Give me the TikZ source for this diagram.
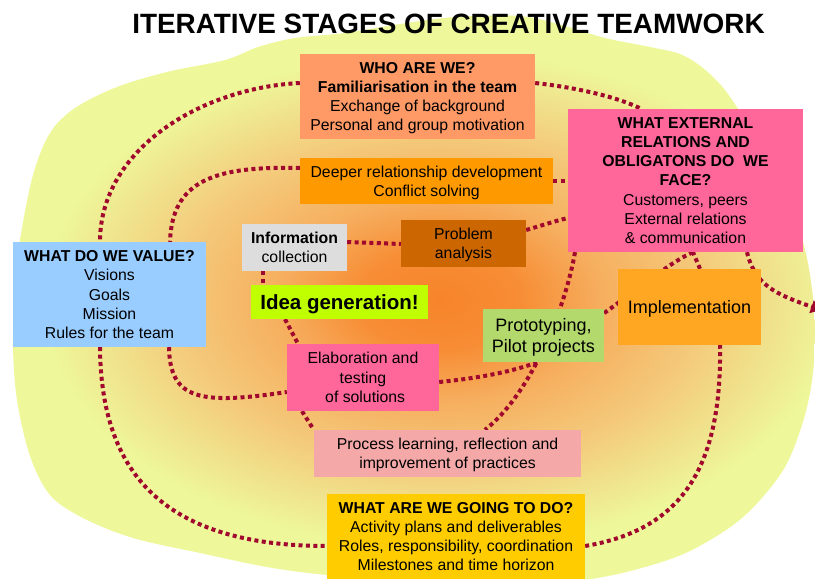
\documentclass[tikz,border=0pt]{standalone}
\usepackage{fontspec}
\setmainfont{Liberation Sans}
\usetikzlibrary{arrows.meta}

% palette
\definecolor{blobc}{HTML}{EEF89B}
\definecolor{glowA}{HTML}{F7842A}
\definecolor{glowB}{HTML}{F78D35}
\definecolor{glowC}{HTML}{F6AE5E}
\definecolor{glowD}{HTML}{F4C97A}
\definecolor{glowE}{HTML}{F0E48E}
\definecolor{linkc}{HTML}{A0082D}
\definecolor{whoc}{HTML}{FF9966}
\definecolor{deeperc}{HTML}{FF9900}
\definecolor{pinkc}{HTML}{FF6699}
\definecolor{valuec}{HTML}{99CCFF}
\definecolor{infoc}{HTML}{DDDDDD}
\definecolor{problemc}{HTML}{CC6600}
\definecolor{ideac}{HTML}{C0FF00}
\definecolor{protoc}{HTML}{B3D96C}
\definecolor{implc}{HTML}{FFA722}
\definecolor{processc}{HTML}{F4A9A8}
\definecolor{goingc}{HTML}{FFCC00}

% warm glow in the middle of the blob (ellipse edge = 25bp)
\pgfdeclareradialshading{glow}{\pgfpoint{0bp}{0bp}}{%
  color(0bp)=(glowA); color(5bp)=(glowB); color(10bp)=(glowC);
  color(16.25bp)=(glowD); color(21.25bp)=(glowE); color(25bp)=(blobc);
  color(50bp)=(blobc)}

\pgfdeclarelayer{blob}
\pgfdeclarelayer{links}
\pgfsetlayers{blob,links,main}

\newcommand\fsbody{\fontsize{15.8}{19.3}\selectfont}
\newcommand\fsbig{\fontsize{18}{21}\selectfont}

\tikzset{
  box/.style={inner sep=0pt, align=center, text=black, font=\fsbody, text depth=0pt},
  link/.style={draw=linkc, line width=4pt, dash pattern=on 4pt off 3.4pt},
}

\begin{document}
\begin{tikzpicture}[x=1pt, y=-1pt]
\useasboundingbox (0,0) rectangle (815,579);

% title
\node[font=\fontsize{27.9}{33}\selectfont\bfseries, anchor=base] (title) at (448.5,33.5)
  {ITERATIVE STAGES OF CREATIVE TEAMWORK};

% stage boxes
\node[box, fill=whoc, minimum width=235pt, minimum height=85pt] (who) at (417.5,96.5)
  {\textbf{WHO ARE WE?}\\\textbf{Familiarisation in the team}\\Exchange of background\\Personal and group motivation};
\node[box, fill=deeperc, minimum width=253pt, minimum height=46pt] (deeper) at (426.5,181)
  {Deeper relationship development\\Conflict solving};
\node[box, fill=pinkc, minimum width=235pt, minimum height=143pt] (ext) at (685.5,180.5)
  {\textbf{WHAT EXTERNAL}\\\textbf{RELATIONS AND}\\\textbf{OBLIGATONS DO\ \ WE}\\\textbf{FACE?}\\Customers, peers\\External relations\\\& communication};
\node[box, fill=valuec, minimum width=193pt, minimum height=105pt] (value) at (109.5,294.5)
  {\textbf{WHAT DO WE VALUE?}\\Visions\\Goals\\Mission\\Rules for the team};
\node[box, fill=infoc, minimum width=105pt, minimum height=47pt] (info) at (294.5,247.5)
  {\textbf{Information}\\collection};
\node[box, fill=problemc, minimum width=125pt, minimum height=47pt] (problem) at (463.5,243.5)
  {Problem\\analysis};
\node[box, fill=ideac, minimum width=177pt, minimum height=34pt,
      font=\fontsize{20.5}{24}\selectfont\bfseries] (idea) at (339.5,302)
  {Idea generation!};
\node[box, fill=protoc, minimum width=121pt, minimum height=53pt, font=\fsbig] (proto) at (543.5,335.5)
  {Prototyping,\\Pilot projects};
\node[box, fill=implc, minimum width=143pt, minimum height=76pt, font=\fsbig] (impl) at (689.5,307)
  {Implementation};
\node[box, fill=pinkc, minimum width=152pt, minimum height=67pt] (elab) at (363,377.5)
  {Elaboration and\\testing\\\ of solutions};
\node[box, fill=processc, minimum width=267pt, minimum height=47pt] (process) at (447.5,453.5)
  {Process learning, reflection and\\improvement of practices};
\node[box, fill=goingc, minimum width=258pt, minimum height=85pt] (going) at (456,536.5)
  {\textbf{WHAT ARE WE GOING TO DO?}\\Activity plans and deliverables\\Roles, responsibility, coordination\\Milestones and time horizon};

\coordinate (exit) at (821,310);

% background blob with its glow
\begin{pgfonlayer}{blob}
\begin{scope}
  \clip plot[smooth cycle, tension=0.55] coordinates {
    (20,240) (33,175) (50,133) (75,108) (117,87) (167,72) (225,60) (258,47)
    (295,38) (345,33) (400,24) (455,17) (520,16) (565,26) (605,38) (650,47)
    (680,54) (703,68) (725,90) (748,125) (772,168) (792,210) (805,250)
    (812,290) (815,330) (812,380) (802,425) (782,472) (742,518) (690,551)
    (638,569) (585,580) (520,586) (420,582) (327,575) (267,567) (200,553)
    (133,538) (83,518) (50,495) (30,456) (17,400) (13,346) (15,290)};
  \fill[blobc] (0,0) rectangle (815,600);
  \shade[shading=glow] (440,300) ellipse (400pt and 250pt);
\end{scope}
\end{pgfonlayer}

% dotted paths between the stages
\begin{pgfonlayer}{links}
% outer loop
\draw[link] ([yshift=13.5pt]who.west) .. controls (200,88) and (100,150) .. ([xshift=-9.5pt]value.north);
\draw[link] ([xshift=-9.5pt]value.south) .. controls (101,465) and (155,546) .. ([yshift=-9.5pt]going.west);
\draw[link] ([yshift=-9.5pt]going.east) .. controls (680,530) and (722,470) .. ([xshift=30.5pt]impl.south);
\draw[link] ([xshift=10.5pt]impl.north) -- ([xshift=7.5pt]ext.south);
\draw[link] ([yshift=13.5pt]who.east) .. controls (580,88) and (620,98) .. ([xshift=-44.5pt]ext.north);
\draw[link, -{Triangle[length=10pt, width=13pt]}] ([xshift=61.5pt]ext.south) .. controls (755,285) and (775,294) .. (exit);
% second loop
\draw[link] ([yshift=13pt]deeper.west) .. controls (215,166) and (172,180) .. ([xshift=60.5pt]value.north);
\draw[link] ([xshift=59.5pt]value.south) .. controls (170,400) and (200,405) .. ([yshift=-14.5pt]elab.west);
\draw[link] ([yshift=-4.5pt]elab.east) .. controls (480,378) and (515,371) .. ([xshift=-6.5pt]proto.south);
\draw[link] (deeper.east) -- (deeper.east -| ext.west);
% inner paths
\draw[link] ([yshift=13.5pt]problem.east) .. controls (540,226) and (555,221) .. ([yshift=-37.5pt]ext.west);
\draw[link] ([yshift=5.5pt]info.east) -- ([yshift=-0.5pt]problem.west);
\draw[link] ([xshift=-110.5pt]ext.south) .. controls (565,310) and (530,395) .. ([xshift=37.5pt]process.north);
\draw[link] ([yshift=22.5pt]proto.east) .. controls (630,295) and (670,262) .. ([xshift=7.5pt]ext.south);
\draw[link] ([xshift=-31.5pt]info.south) -- ([xshift=-76.5pt]idea.north);
\draw[link] ([xshift=-54.5pt]idea.south) -- ([xshift=-65pt]elab.north);
\draw[link] ([xshift=-61pt]elab.south) -- (process.north west);
\end{pgfonlayer}
\end{tikzpicture}
\end{document}
